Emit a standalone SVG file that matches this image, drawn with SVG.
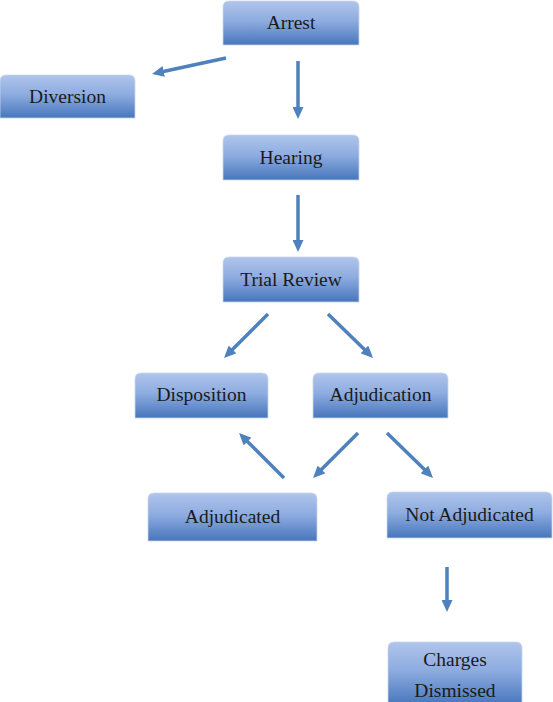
<svg xmlns="http://www.w3.org/2000/svg" width="553" height="702" viewBox="0 0 553 702" font-family="'Liberation Serif', 'Times New Roman', serif">
<defs>
<linearGradient id="g" x1="0" y1="0" x2="0" y2="1">
<stop offset="0" stop-color="#afc5eb"/>
<stop offset="0.45" stop-color="#8eace0"/>
<stop offset="1" stop-color="#4776bc"/>
</linearGradient>
<marker id="ah" viewBox="0 0 12 11" markerWidth="12" markerHeight="11" refX="4" refY="5.5" orient="auto" markerUnits="userSpaceOnUse">
<path d="M0,0 L12,5.5 L0,11 z" fill="#4f81bd"/>
</marker>
</defs>
<style>
.box{fill:url(#g);stroke:#c9d6ee;stroke-width:0.8}
text{font-family:'Liberation Serif','Times New Roman',serif;font-size:19.5px;fill:#1a1a1a;text-anchor:middle}
.c{stroke:#4f81bd;stroke-width:3.5;fill:none;marker-end:url(#ah)}
</style>
<rect width="553" height="702" fill="#ffffff"/>
<g id="connectors">
<line class="c" x1="226" y1="58" x2="159.8" y2="72.3"/>
<line class="c" x1="298" y1="61" x2="298" y2="111"/>
<line class="c" x1="298" y1="195" x2="298" y2="244"/>
<line class="c" x1="268" y1="314" x2="229.7" y2="352.3"/>
<line class="c" x1="328" y1="314" x2="367.3" y2="352.3"/>
<line class="c" x1="284" y1="478" x2="244.7" y2="438.7"/>
<line class="c" x1="358" y1="433" x2="318.7" y2="472.3"/>
<line class="c" x1="387" y1="433" x2="427.3" y2="472.3"/>
<line class="c" x1="447" y1="567" x2="447" y2="604"/>
</g>
<g id="arrest">
<path class="box" d="M223,45 L223,7 Q223,1 229,1 L353,1 Q359,1 359,7 L359,45 Z"/>
<text x="291" y="29">Arrest</text>
</g>
<g id="diversion">
<path class="box" d="M0,118 L0,81 Q0,75 6,75 L129,75 Q135,75 135,81 L135,118 Z"/>
<text x="67.5" y="103">Diversion</text>
</g>
<g id="hearing">
<path class="box" d="M223,180 L223,141 Q223,135 229,135 L353,135 Q359,135 359,141 L359,180 Z"/>
<text x="291" y="164">Hearing</text>
</g>
<g id="trial-review">
<path class="box" d="M223,302 L223,263 Q223,257 229,257 L353,257 Q359,257 359,263 L359,302 Z"/>
<text x="291" y="286">Trial Review</text>
</g>
<g id="disposition">
<path class="box" d="M135,418 L135,379 Q135,373 141,373 L262,373 Q268,373 268,379 L268,418 Z"/>
<text x="201.5" y="401">Disposition</text>
</g>
<g id="adjudication">
<path class="box" d="M313,418 L313,379 Q313,373 319,373 L442,373 Q448,373 448,379 L448,418 Z"/>
<text x="380.5" y="401">Adjudication</text>
</g>
<g id="adjudicated">
<path class="box" d="M148,541 L148,499 Q148,493 154,493 L311,493 Q317,493 317,499 L317,541 Z"/>
<text x="232.5" y="523">Adjudicated</text>
</g>
<g id="not-adjudicated">
<path class="box" d="M387,538 L387,498 Q387,492 393,492 L546,492 Q552,492 552,498 L552,538 Z"/>
<text x="469.5" y="521">Not Adjudicated</text>
</g>
<g id="charges-dismissed">
<path class="box" d="M388,705 L388,648 Q388,642 394,642 L516,642 Q522,642 522,648 L522,705 Z"/>
<text x="455" y="666">Charges</text>
<text x="455" y="697">Dismissed</text>
</g>
</svg>
